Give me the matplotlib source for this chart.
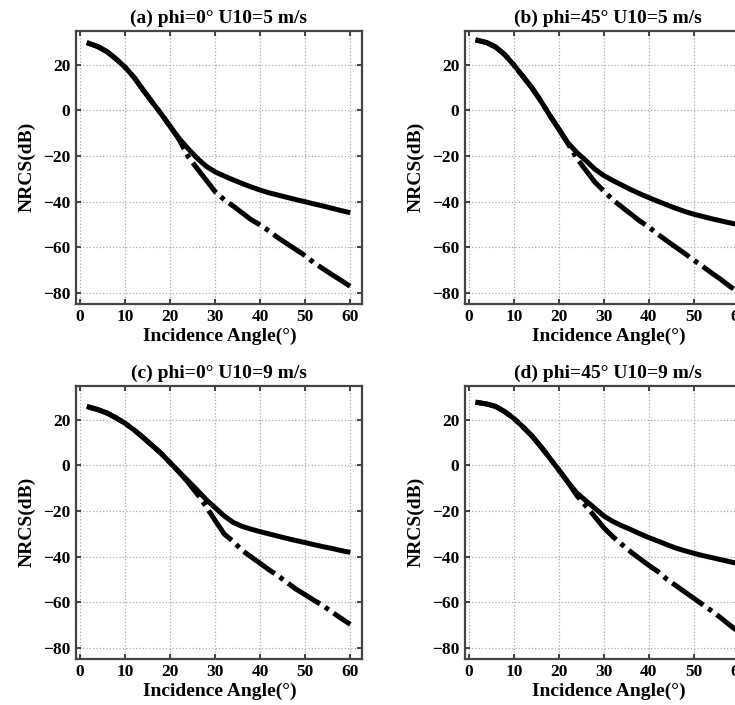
import matplotlib
matplotlib.use("Agg")
import matplotlib.pyplot as plt

plt.rcParams['font.family'] = ['Liberation Serif', 'DejaVu Serif']
plt.rcParams['font.weight'] = 'bold'
plt.rcParams['mathtext.default'] = 'regular'

# Incidence angles (degrees)
angles = [1.5, 4, 6, 8, 10, 12, 14, 16, 18, 20, 22, 24, 26, 28, 30,
          32, 34, 36, 38, 40, 42, 44, 46, 48, 50, 52, 54, 56, 58, 60]

# (a) phi=0 U10=5
a_solid = [29.8, 28.0, 25.8, 22.6, 19.0, 14.5, 9.0, 3.7, -1.5, -7.0, -12.3, -16.8, -21.0, -24.5, -27.0,
           -28.8, -30.5, -32.1, -33.6, -35.0, -36.2, -37.2, -38.2, -39.2, -40.1, -41.1, -42.0, -43.0, -44.0, -44.9]
a_dash = [29.8, 28.0, 25.8, 22.6, 19.0, 14.5, 9.0, 3.7, -1.5, -7.0, -12.8, -20.3, -25.5, -30.6, -35.7,
          -39.2, -42.0, -45.0, -48.0, -50.3, -53.0, -56.0, -58.6, -61.2, -63.8, -67.0, -69.6, -72.2, -74.7, -77.3]

# (b) phi=45 U10=5
b_solid = [31.0, 29.8, 27.8, 24.5, 20.0, 15.0, 10.0, 4.2, -2.2, -8.2, -14.2, -18.5, -22.0, -25.8, -28.6,
           -30.8, -32.8, -34.8, -36.6, -38.3, -39.9, -41.5, -43.0, -44.4, -45.6, -46.6, -47.6, -48.5, -49.4, -50.2]
b_dash = [31.0, 29.8, 27.8, 24.5, 20.0, 15.0, 10.0, 4.2, -2.2, -8.2, -14.5, -21.0, -26.3, -31.5, -35.4,
          -39.3, -42.4, -45.5, -48.6, -51.2, -54.4, -57.3, -60.1, -62.9, -65.8, -68.6, -71.5, -74.3, -77.3, -80.0]

# (c) phi=0 U10=9
c_solid = [25.9, 24.5, 23.0, 20.9, 18.5, 15.6, 12.3, 8.8, 5.3, 1.2, -2.9, -6.8, -10.8, -15.0, -18.6,
           -22.2, -25.0, -26.8, -28.0, -29.1, -30.1, -31.1, -32.1, -33.0, -33.9, -34.8, -35.7, -36.5, -37.4, -38.2]
c_dash = [25.9, 24.5, 23.0, 20.9, 18.5, 15.6, 12.3, 8.8, 5.3, 1.2, -2.9, -7.5, -12.5, -18.1, -24.2,
          -30.1, -33.4, -37.3, -40.2, -43.0, -45.9, -48.5, -51.5, -54.4, -56.8, -59.3, -61.6, -64.5, -67.2, -69.8]

# (d) phi=45 U10=9
d_solid = [27.8, 27.0, 25.9, 23.6, 20.7, 17.0, 13.0, 8.3, 3.2, -2.0, -7.3, -12.1, -15.5, -18.8, -22.2,
           -24.6, -26.5, -28.2, -30.0, -31.7, -33.2, -34.8, -36.3, -37.5, -38.6, -39.6, -40.5, -41.4, -42.3, -43.2]
d_dash = [27.8, 27.0, 25.9, 23.6, 20.7, 17.0, 13.0, 8.3, 3.2, -2.0, -7.3, -13.2, -17.8, -22.5, -27.4,
          -31.3, -34.7, -38.0, -41.0, -43.9, -46.6, -50.0, -52.8, -55.6, -58.4, -61.2, -64.0, -67.0, -70.2, -73.3]

titles = ["(a) phi=0° U10=5 m/s", "(b) phi=45° U10=5 m/s",
          "(c) phi=0° U10=9 m/s", "(d) phi=45° U10=9 m/s"]
xticks = [0, 10, 20, 30, 40, 50, 60]
yticks = [20, 0, -20, -40, -60, -80]

W, H = 735, 705
fig = plt.figure(figsize=(W / 100, H / 100), dpi=100)
fig.patch.set_facecolor('white')

boxes = [(76, 31), (464.7, 31), (76, 386), (464.7, 386)]
aw, ah = 286, 272.5
series = [(a_solid, a_dash), (b_solid, b_dash), (c_solid, c_dash), (d_solid, d_dash)]

for (lx, ty), title, (s, d) in zip(boxes, titles, series):
    ax = fig.add_axes([lx / W, 1 - (ty + ah) / H, aw / W, ah / H])
    ax.plot(angles, s, color='black', lw=3.6, solid_capstyle='butt', solid_joinstyle='round', zorder=3)
    ln, = ax.plot(angles, d, color='black', lw=3.6, zorder=3, dash_capstyle='butt',
                  dash_joinstyle='round')
    ln.set_dashes((7.6, 1.2, 0.9, 1.2))
    ax.set_xlim(-0.9, 62.6)
    ax.set_ylim(-84.8, 34.9)
    ax.set_xticks(xticks)
    ax.set_yticks(yticks)
    ax.grid(True, linestyle=':', color='#aaaaaa', linewidth=0.9)
    ax.tick_params(direction='in', top=True, right=True, length=3.5, width=1.2,
                   labelsize=12.5, pad=4, colors='#222222')
    for lab in ax.get_xticklabels() + ax.get_yticklabels():
        lab.set_fontweight('bold')
        lab.set_color('black')
    for sp in ax.spines.values():
        sp.set_linewidth(1.6)
        sp.set_color('#444444')
    ax.set_title(title, fontsize=14, fontweight='bold', pad=6)
    ax.set_xlabel('Incidence Angle(°)', fontsize=14, fontweight='bold')
    ax.set_ylabel('NRCS(dB)', fontsize=14, fontweight='bold')
    ax.xaxis.set_label_coords(0.503, -0.121)
    ax.xaxis.label.set_va('center')
    ax.yaxis.set_label_coords(-0.171, 0.5)
    ax.yaxis.label.set_va('center')

fig.savefig('out.png', dpi=100, facecolor='white')
